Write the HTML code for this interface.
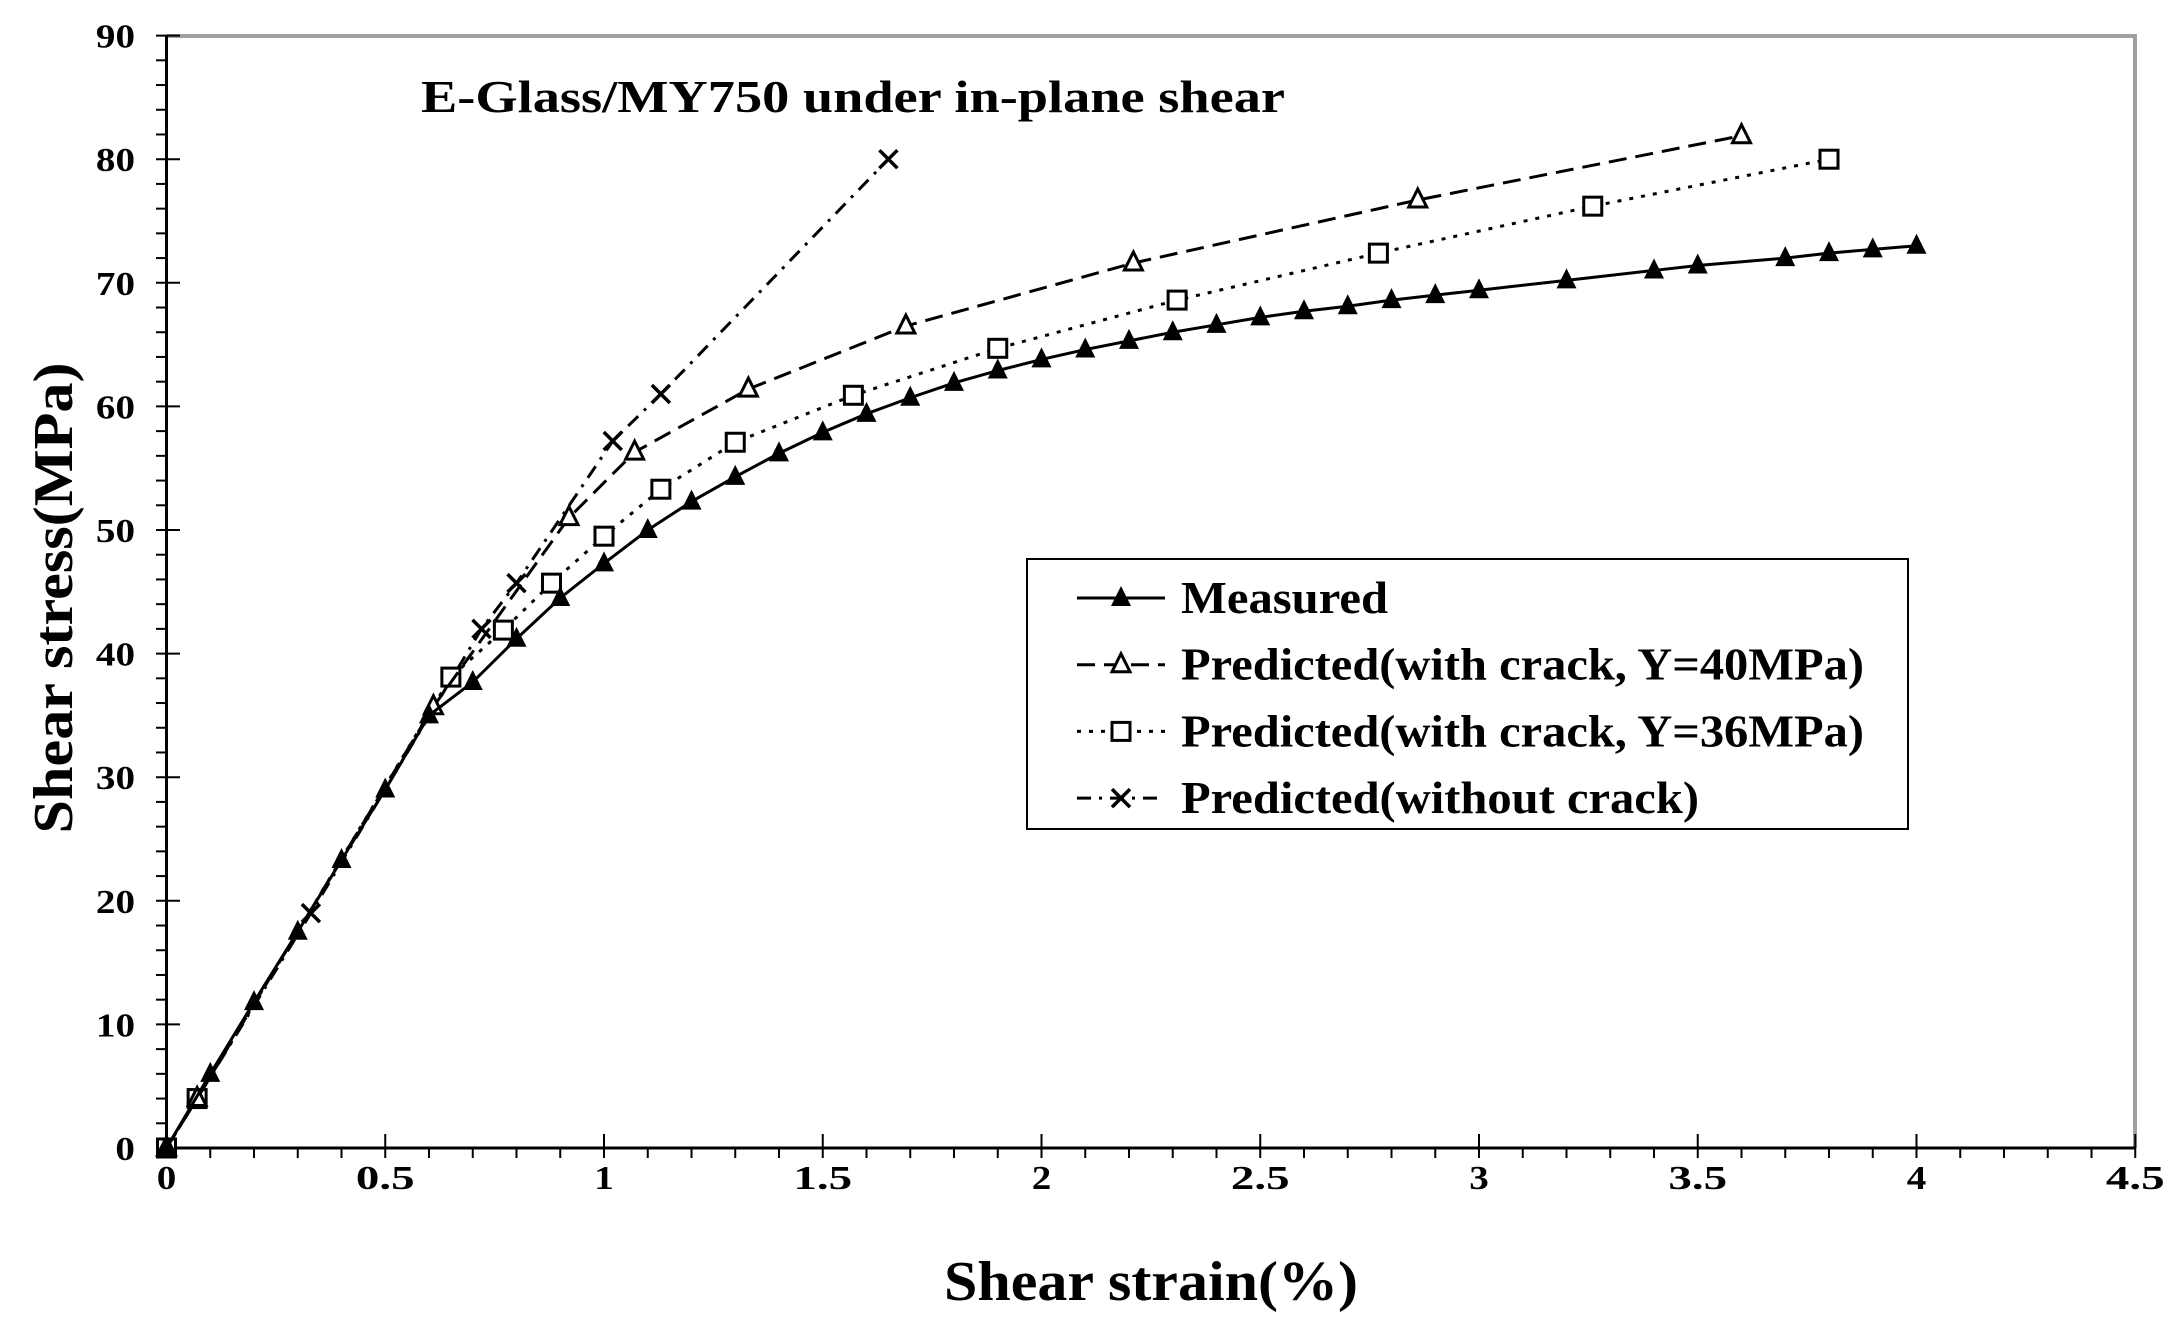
<!DOCTYPE html>
<html><head><meta charset="utf-8"><style>body{margin:0;background:#fff}svg{display:block}text{font-family:"Liberation Serif",serif;font-weight:bold;fill:#000}</style></head>
<body>
<svg id="s" width="2184" height="1327" viewBox="0 0 2184 1327" xmlns="http://www.w3.org/2000/svg"></svg>
<script>
const s=document.getElementById('s');
const X=x=>166.5+x*437.5, Y=y=>1148-y*12.36;
let h='';
h+=`<polyline points="${X(0)},36 2135,36 2135,${Y(0)}" fill="none" stroke="#a0a0a0" stroke-width="4"/>`;
h+=`<line x1="${X(0)}" y1="36" x2="${X(0)}" y2="1148" stroke="#000" stroke-width="3"/>`;
h+=`<line x1="${X(0)}" y1="1148" x2="2135" y2="1148" stroke="#000" stroke-width="3"/>`;
for(let i=0;i<=45;i++){let x=X(i/10);let maj=i%5==0;h+=`<line x1="${x}" y1="${maj?1134:1148}" x2="${x}" y2="1158" stroke="#000" stroke-width="2"/>`;
 if(maj){let t=String(i/10);h+=`<text x="${x}" y="1189" font-size="34" text-anchor="middle" textLength="${t.length*17*1.15}" lengthAdjust="spacingAndGlyphs">${t}</text>`;}}
for(let v=0;v<=90;v+=2){let y=Y(v);let maj=v%10==0;h+=`<line x1="156" y1="${y}" x2="${maj?180:166}" y2="${y}" stroke="#000" stroke-width="2"/>`;
 if(maj){let t=String(v);h+=`<text x="135" y="${y+12}" font-size="34" text-anchor="end" textLength="${t.length*17*1.15}" lengthAdjust="spacingAndGlyphs">${t}</text>`;}}
h+=`<text x="421" y="112" font-size="46" textLength="864" lengthAdjust="spacingAndGlyphs">E-Glass/MY750 under in-plane shear</text>`;
h+=`<text x="944" y="1300" font-size="56" textLength="414" lengthAdjust="spacingAndGlyphs">Shear strain(%)</text>`;
h+=`<text transform="translate(72,598) rotate(-90)" font-size="56" text-anchor="middle" textLength="471" lengthAdjust="spacingAndGlyphs">Shear stress(MPa)</text>`;
const M=[[0,0],[0.1,6],[0.2,11.8],[0.3,17.5],[0.4,23.3],[0.5,29],[0.6,35],[0.7,37.7],[0.8,41.2],[0.9,44.5],[1,47.3],[1.1,50],[1.2,52.3],[1.3,54.3],[1.4,56.2],[1.5,57.9],[1.6,59.4],[1.7,60.7],[1.8,61.9],[1.9,62.9],[2,63.8],[2.1,64.6],[2.2,65.3],[2.3,66],[2.4,66.6],[2.5,67.2],[2.6,67.7],[2.7,68.1],[2.8,68.6],[2.9,69],[3,69.4],[3.2,70.2],[3.4,71],[3.5,71.4],[3.7,72],[3.8,72.4],[3.9,72.7],[4,73]];
const A=[[0,0],[0.07,4],[0.61,35.7],[0.92,51],[1.07,56.3],[1.33,61.4],[1.69,66.5],[2.21,71.6],[2.86,76.7],[3.6,81.9]];
const B=[[0,0],[0.07,4],[0.65,38.1],[0.77,41.9],[0.88,45.7],[1,49.5],[1.13,53.3],[1.3,57.1],[1.57,60.9],[1.9,64.7],[2.31,68.6],[2.77,72.4],[3.26,76.2],[3.8,80]];
const C=[[0,0],[0.07,4],[0.33,19],[0.72,42],[0.8,45.7],[1.02,57.2],[1.13,61],[1.65,80]];
function mk(t,x,y){if(t=='ft')return `<polygon points="${x},${y-12} ${x-10},${y+8} ${x+10},${y+8}" fill="#000"/>`;
 if(t=='ot')return `<polygon points="${x},${y-11} ${x-9},${y+7} ${x+9},${y+7}" fill="#fff" stroke="#000" stroke-width="3"/>`;
 if(t=='sq')return `<rect x="${x-9}" y="${y-9}" width="18" height="18" fill="#fff" stroke="#000" stroke-width="3"/>`;
 return `<path d="M${x-9} ${y-9}L${x+9} ${y+9}M${x+9} ${y-9}L${x-9} ${y+9}" stroke="#000" stroke-width="3.5"/>`;}
function ser(d,t,dash){h+=`<polyline points="${d.map(p=>X(p[0])+','+Y(p[1])).join(' ')}" fill="none" stroke="#000" stroke-width="3" ${dash?`stroke-dasharray="${dash}"`:''}/>`;d.forEach(p=>h+=mk(t,X(p[0]),Y(p[1])));}
ser(C,'x','14,8,3,8');ser(B,'sq','4,8');ser(A,'ot','18,9');ser(M,'ft','');
h+=`<rect x="1027" y="559" width="881" height="270" fill="#fff" stroke="#000" stroke-width="2"/>`;
const L=[['ft','','Measured',207],['ot','18,9','Predicted(with crack, Y=40MPa)',683],['sq','4,8','Predicted(with crack, Y=36MPa)',683],['x','14,8,3,8','Predicted(without crack)',518]];
L.forEach((l,i)=>{let y=598+i*66.7;h+=`<line x1="1077" y1="${y}" x2="1165" y2="${y}" stroke="#000" stroke-width="3" ${l[1]?`stroke-dasharray="${l[1]}"`:''}/>`+mk(l[0],1121,y)+`<text x="1181" y="${y+15}" font-size="46" textLength="${l[3]}" lengthAdjust="spacingAndGlyphs">${l[2]}</text>`;});
s.innerHTML=h;
</script>
</body></html>
